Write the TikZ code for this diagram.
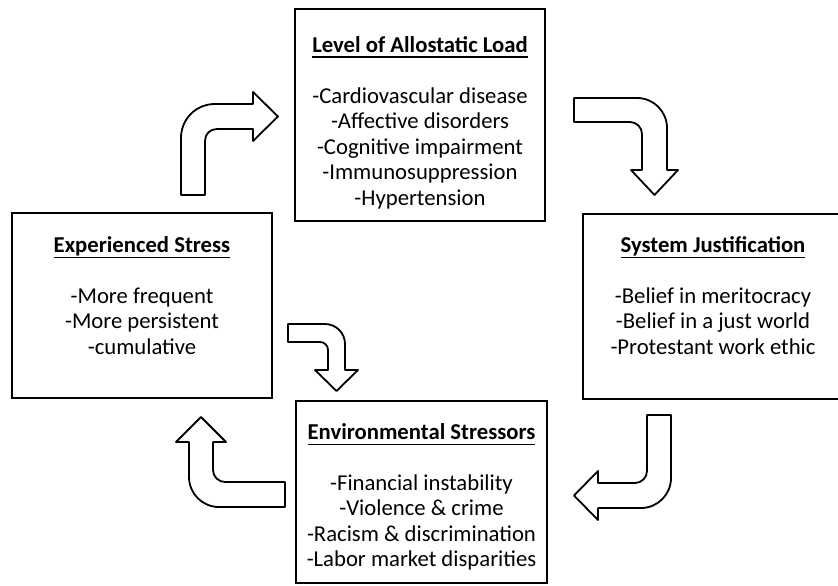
\documentclass[tikz,border=0pt]{standalone}
\usepackage{fontspec}
\setmainfont{Carlito}
\usepackage{tikz}
\tikzset{
  panel/.style={rectangle,draw=black,line width=2.4pt,fill=white,
    minimum width=#1},
  panel/.default=250pt,
  paneltext/.style={align=center,inner sep=0pt,
    font=\fontsize{22.7}{25.5}\selectfont},
  blockarrow/.style={draw=black,line width=1.8pt,fill=white,line join=round}
}
\newlength{\headlen}
\newcommand{\heading}[1]{\settowidth{\headlen}{\textbf{#1}}%
  \textbf{#1}\llap{\rule[-6pt]{\headlen}{1.7pt}}}

\begin{document}
\begin{tikzpicture}[x=1pt,y=-1pt]
  \useasboundingbox (0,0) rectangle (838,586);

  % the four panels
  \node[panel=250pt, minimum height=212pt] (allo) at (420,115) {};
  \node[panel=260pt, minimum height=185pt] (stress) at (142,305.5) {};
  \node[panel=260pt, minimum height=185pt] (justif) at (713,306.5) {};
  \node[panel=251pt, minimum height=182pt] (enviro) at (421.5,492) {};

  \node[paneltext] (allotext) at (420,122.5)
    {\heading{Level of Allostatic Load}\\[\baselineskip]
     -Cardiovascular disease\\ -Affective disorders\\ -Cognitive impairment\\
     -Immunosuppression\\ -Hypertension};
  \node[paneltext] (stresstext) at (142,295.5)
    {\heading{Experienced Stress}\\[\baselineskip]
     -More frequent\\ -More persistent\\ -cumulative};
  \node[paneltext] (justiftext) at (713,295.5)
    {\heading{System Justification}\\[\baselineskip]
     -Belief in meritocracy\\ -Belief in a just world\\ -Protestant work ethic};
  \node[paneltext] (envirotext) at (421.5,497)
    {\heading{Environmental Stressors}\\[\baselineskip]
     -Financial instability\\ -Violence \& crime\\ -Racism \& discrimination\\
     -Labor market disparities};

  % bent block arrows of the cycle
  \draw[blockarrow] (181,195) -- (181,138) .. controls (181,119) and (196,104) .. (215,104)
    -- (253,104) -- (253,92) -- (278,116.5) -- (253,141) -- (253,129) -- (217,129)
    .. controls (210,129) and (205,134) .. (205,141) -- (205,195) -- cycle;
  \draw[blockarrow] (574,98) -- (637,98) .. controls (653.6,98) and (667,111.4) .. (667,128)
    -- (667,170) -- (678,170) -- (654.5,195) -- (631,170) -- (642,170) -- (642,134)
    .. controls (642,127.4) and (636.6,122) .. (630,122) -- (574,122) -- cycle;
  \draw[blockarrow] (647,415) -- (671,415) -- (671,478) .. controls (671,494.6) and (657.6,508) .. (641,508)
    -- (598,508) -- (598,520) -- (574,495.5) -- (598,471) -- (598,483) -- (635,483)
    .. controls (641.6,483) and (647,477.6) .. (647,471) -- cycle;
  \draw[blockarrow] (285,507) -- (219,507) .. controls (202.4,507) and (189,493.6) .. (189,477)
    -- (189,442) -- (176,442) -- (201,417) -- (226,442) -- (213,442) -- (213,470)
    .. controls (213,476.6) and (218.4,482) .. (225,482) -- (285,482) -- cycle;
  \draw[blockarrow] (288,324) -- (325,324) .. controls (336,324) and (345,333) .. (345,344)
    -- (345,370) -- (358,370) -- (336.5,391) -- (315,370) -- (328,370) -- (328,350)
    .. controls (328,345.6) and (324.4,342) .. (320,342) -- (288,342) -- cycle;
\end{tikzpicture}
\end{document}
